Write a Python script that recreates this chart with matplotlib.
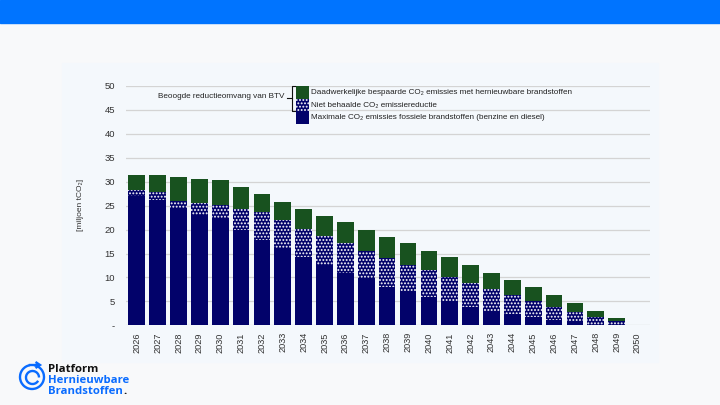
import matplotlib
matplotlib.use('Agg')
import matplotlib.pyplot as plt
from matplotlib.patches import Rectangle, Arc, Polygon
import numpy as np

years = [str(y) for y in range(2026, 2051)]
fossiel = [27.0, 26.1, 24.2, 23.1, 22.3, 20.0, 17.9, 16.0, 14.2, 12.6, 11.0, 9.8, 8.1,
           6.9, 6.0, 4.9, 3.9, 2.9, 2.3, 1.7, 1.1, 0.6, 0.1, 0.0, 0.0]
niet_behaald = [1.3, 1.8, 1.8, 2.5, 2.8, 4.3, 5.8, 6.1, 5.9, 6.1, 6.1, 5.8, 6.0,
                5.8, 5.5, 5.1, 4.9, 4.6, 4.0, 3.3, 2.8, 2.2, 1.7, 0.8, 0.0]
bespaard = [3.2, 3.4, 5.0, 5.0, 5.3, 4.7, 3.8, 3.7, 4.3, 4.2, 4.4, 4.4, 4.4,
            4.4, 4.1, 4.2, 3.7, 3.5, 3.2, 2.9, 2.4, 1.9, 1.2, 0.8, 0.0]
yticks = [0, 5, 10, 15, 20, 25, 30, 35, 40, 45, 50]
ytick_labels = ['-', '5', '10', '15', '20', '25', '30', '35', '40', '45', '50']
legend_labels = ['Daadwerkelijke bespaarde CO\u2082 emissies met hernieuwbare brandstoffen',
                 'Niet behaalde CO\u2082 emissiereductie',
                 'Maximale CO\u2082 emissies fossiele brandstoffen (benzine en diesel)']

NAVY = '#02026a'
GREEN = '#18521f'
FONT = ['Liberation Sans', 'DejaVu Sans']
plt.rcParams['font.family'] = FONT
plt.rcParams['hatch.linewidth'] = 0.9

W, H = 720, 405
fig = plt.figure(figsize=(7.2, 4.05), dpi=100, facecolor='#f8f9fa')

# top band and panel
fig.patches.append(Rectangle((0, 1 - 23 / H), 1, 23 / H, transform=fig.transFigure,
                             color='#0074ff', zorder=-2))
fig.patches.append(Rectangle((62 / W, 1 - 362 / H), (658 - 62) / W, (362 - 63) / H,
                             transform=fig.transFigure, color='#f4f8fc', zorder=-2))

ax_l, ax_r, ax_t, ax_b = 125.7, 650, 86, 325.3
ax = fig.add_axes([ax_l / W, 1 - ax_b / H, (ax_r - ax_l) / W, (ax_b - ax_t) / H])
ax.set_facecolor('none')

x = np.arange(len(years))
bw = 0.8
ax.bar(x, fossiel, bw, color=NAVY, linewidth=0, zorder=3)
ax.bar(x, niet_behaald, bw, bottom=fossiel, color=NAVY, edgecolor='white',
       linewidth=0, hatch='.....', zorder=3)
bottom2 = np.array(fossiel) + np.array(niet_behaald)
ax.bar(x, bespaard, bw, bottom=bottom2, color=GREEN, linewidth=0, zorder=3)

ax.set_xlim(-0.53, 24.6)
ax.set_ylim(0, 50)
ax.set_yticks(yticks)
ax.set_yticklabels(ytick_labels)
ax.set_xticks(x)
ax.set_xticklabels(years, rotation=90)
ax.tick_params(axis='y', length=0, pad=7.7, labelsize=6.8, labelcolor='#333333')
ax.tick_params(axis='x', length=0, pad=5, labelsize=6.6, labelcolor='#333333')
ax.grid(axis='y', color='#d4d4d4', linewidth=0.9, zorder=0)
for s in ax.spines.values():
    s.set_visible(False)

fig.text(80 / W, 1 - 205 / H, '[miljoen tCO\u2082]', rotation=90, ha='center',
         va='center', fontsize=6.0, color='#333333')

# legend
LFS = 5.9
lx = (296 - ax_l) / (ax_r - ax_l)
lw = 13 / (ax_r - ax_l)
lh = 12.7 / (ax_b - ax_t)
styles = [dict(color=GREEN, linewidth=0),
          dict(facecolor=NAVY, edgecolor='white', linewidth=0, hatch='.....'),
          dict(color=NAVY, linewidth=0)]
for i, (lab, st) in enumerate(zip(legend_labels, styles)):
    y0 = 1 - (i + 1) * lh
    ax.add_patch(Rectangle((lx, y0), lw, lh, transform=ax.transAxes, clip_on=False,
                           zorder=5, **st))
    ax.text((311 - ax_l) / (ax_r - ax_l), y0 + lh / 2, lab, transform=ax.transAxes,
            ha='left', va='center', fontsize=LFS, color='#222222', zorder=5)

# bracket
def axf(px, py):
    return (px - ax_l) / (ax_r - ax_l), (ax_b - py) / (ax_b - ax_t)

pts = [axf(295, 86), axf(292, 86), axf(292, 111), axf(295, 111)]
ax.plot([p[0] for p in pts], [p[1] for p in pts], color='#111111', linewidth=0.8,
        transform=ax.transAxes, clip_on=False, zorder=5)
pts = [axf(287, 98), axf(292, 98)]
ax.plot([p[0] for p in pts], [p[1] for p in pts], color='#111111', linewidth=0.8,
        transform=ax.transAxes, clip_on=False, zorder=5)
tx, ty = axf(284, 96.5)
ax.text(tx, ty, 'Beoogde reductieomvang van BTV', transform=ax.transAxes, ha='right',
        va='center', fontsize=LFS, color='#222222', zorder=5)

# logo
BLUE = '#0a6cff'
LF = ['Open Sans', 'DejaVu Sans']
LS = 8.2
fig.text(48 / W, 1 - 372.5 / H, 'Platform', fontsize=LS, fontweight='bold',
         color='#111111', va='baseline', ha='left', family=LF)
fig.text(48 / W, 1 - 383 / H, 'Hernieuwbare', fontsize=LS, fontweight='bold',
         color=BLUE, va='baseline', ha='left', family=LF)
t = fig.text(48 / W, 1 - 393.5 / H, 'Brandstoffen', fontsize=LS, fontweight='bold',
             color=BLUE, va='baseline', ha='left', family=LF)
fig.canvas.draw()
bb = t.get_window_extent()
fig.text(bb.x1 / W, 1 - 393.5 / H, '.', fontsize=LS, fontweight='bold',
         color='#111111', va='baseline', ha='left', family=LF)

iax = fig.add_axes([16 / W, 1 - 392 / H, 32 / W, 32 / H])
iax.set_xlim(-16, 16)
iax.set_ylim(-16, 16)
iax.set_aspect('equal')
iax.axis('off')
iax.add_patch(Arc((0, -1), 24, 24, theta1=100, theta2=440, color=BLUE, linewidth=1.7))
iax.add_patch(Arc((0.5, -1.5), 13, 13, theta1=0, theta2=330, color=BLUE, linewidth=1.7))
iax.plot([-2, 5], [11, 11], color=BLUE, linewidth=1.7)
iax.add_patch(Polygon([[3.5, 14], [8, 11], [3.5, 8]], closed=False, fill=False,
                      edgecolor=BLUE, linewidth=1.7))

fig.savefig('out.png', dpi=100, facecolor=fig.get_facecolor())
